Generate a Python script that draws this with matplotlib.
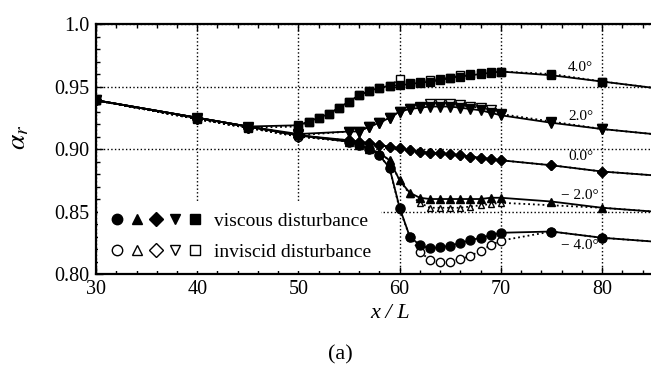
import numpy as np
import matplotlib.pyplot as plt
from matplotlib.lines import Line2D
from matplotlib.legend_handler import HandlerTuple
from matplotlib.ticker import MultipleLocator

plt.rcParams['font.family'] = ['Liberation Serif', 'DejaVu Serif']
plt.rcParams['mathtext.fontset'] = 'stix'

# x/L positions
x_4 = [30, 40, 45, 50, 51, 52, 53, 54, 55, 56, 57, 58, 59, 60, 61, 62, 63, 64,
       65, 66, 67, 68, 69, 70, 75, 80, 85]
x_lo = [30, 40, 45, 50, 55, 56, 57, 58, 59, 60, 61, 62, 63, 64, 65, 66, 67, 68,
        69, 70, 75, 80, 85]
x_m2_inv = [30, 40, 45, 50, 55, 56, 57, 58, 59, 60, 61, 62, 63, 64, 65, 66, 67,
            68, 69, 70, 80, 85]

# alpha_r, 4.0 deg
y_4_visc = [0.939, 0.925, 0.918, 0.919, 0.922, 0.925, 0.928, 0.933, 0.938,
            0.943, 0.9465, 0.949, 0.9505, 0.951, 0.952, 0.953, 0.954, 0.955,
            0.957, 0.958, 0.959, 0.960, 0.961, 0.962, 0.959, 0.954, 0.949]
y_4_inv = [0.939, 0.924, 0.917, 0.918, 0.922, 0.925, 0.928, 0.933, 0.938,
           0.943, 0.9465, 0.949, 0.9505, 0.956, 0.953, 0.954, 0.955, 0.956,
           0.957, 0.959, 0.960, 0.961, 0.962, 0.962, 0.960, 0.954, 0.949]
# 2.0 deg
y_2_visc = [0.939, 0.925, 0.918, 0.912, 0.914, 0.914, 0.918, 0.921, 0.925,
            0.930, 0.932, 0.933, 0.934, 0.934, 0.934, 0.933, 0.932, 0.931,
            0.929, 0.927, 0.921, 0.916, 0.912]
y_2_inv = [0.939, 0.924, 0.917, 0.911, 0.914, 0.914, 0.918, 0.921, 0.925,
           0.930, 0.932, 0.934, 0.936, 0.936, 0.936, 0.935, 0.934, 0.933,
           0.931, 0.928, 0.922, 0.916, 0.912]
# 0.0 deg
y_0_visc = [0.939, 0.925, 0.918, 0.911, 0.907, 0.906, 0.9045, 0.903, 0.902,
            0.9005, 0.899, 0.898, 0.897, 0.8965, 0.896, 0.895, 0.894, 0.893,
            0.892, 0.891, 0.887, 0.882, 0.879]
y_0_inv = [0.939, 0.924, 0.917, 0.910, 0.907, 0.906, 0.9045, 0.903, 0.902,
           0.9005, 0.899, 0.898, 0.897, 0.8965, 0.896, 0.895, 0.894, 0.893,
           0.892, 0.891, 0.887, 0.882, 0.879]
# -2.0 deg
y_m2_visc = [0.939, 0.925, 0.918, 0.911, 0.906, 0.903, 0.900, 0.897, 0.891,
             0.875, 0.865, 0.861, 0.860, 0.860, 0.860, 0.860, 0.860, 0.860,
             0.861, 0.861, 0.858, 0.853, 0.850]
y_m2_inv = [0.939, 0.924, 0.917, 0.910, 0.906, 0.903, 0.900, 0.897, 0.891,
            0.875, 0.864, 0.857, 0.853, 0.853, 0.853, 0.853, 0.854, 0.855,
            0.856, 0.857, 0.853, 0.850]
# -4.0 deg
y_m4_visc = [0.939, 0.925, 0.918, 0.911, 0.906, 0.903, 0.900, 0.895, 0.885,
             0.853, 0.830, 0.823, 0.8205, 0.8215, 0.8225, 0.825, 0.827, 0.829,
             0.831, 0.833, 0.834, 0.829, 0.826]
y_m4_inv = [0.939, 0.924, 0.917, 0.910, 0.906, 0.903, 0.900, 0.895, 0.885,
            0.852, 0.830, 0.818, 0.811, 0.8096, 0.8096, 0.812, 0.8144, 0.8187,
            0.823, 0.8267, 0.834, 0.829, 0.826]

angle_labels = ['4.0°', '2.0°', '0.0°', '− 2.0°', '− 4.0°']
label_x = [77.9, 77.9, 77.9, 77.8, 77.8]
label_y = [0.9655, 0.926, 0.894, 0.863, 0.823]

series = [
    ('s', 6.0, x_4, y_4_visc, x_4, y_4_inv),
    ('v', 7.0, x_lo, y_2_visc, x_lo, y_2_inv),
    ('D', 5.5, x_lo, y_0_visc, x_lo, y_0_inv),
    ('^', 5.5, x_lo, y_m2_visc, x_m2_inv, y_m2_inv),
    ('o', 6.5, x_lo, y_m4_visc, x_lo, y_m4_inv),
]

fig = plt.figure(figsize=(6.51, 3.72), dpi=100)
ax = fig.add_axes([0.1475, 0.2634, 0.855, 0.672])

for m, ms, xv, yv, xi, yi in series:
    ax.plot(xi, yi, ls=':', color='k', lw=1.3, marker=m, ms=ms - 0.5,
            mfc='white', mec='k', mew=1.0, markevery=slice(None, -1), zorder=2)
    ax.plot(xv, yv, ls='-', color='k', lw=1.3, marker=m, ms=ms, mfc='k',
            mec='k', markevery=slice(None, -1), zorder=3)

for t, lx, ly in zip(angle_labels, label_x, label_y):
    ax.text(lx, ly, t, fontsize=11, ha='center', va='center', zorder=4)

ax.set_xlim(30, 85)
ax.set_ylim(0.80, 1.0)
ax.set_xticks([30, 40, 50, 60, 70, 80])
ax.set_yticks([0.80, 0.85, 0.90, 0.95, 1.0])
ax.set_yticklabels(['0.80', '0.85', '0.90', '0.95', '1.0'])
ax.xaxis.set_minor_locator(MultipleLocator(2))
ax.yaxis.set_minor_locator(MultipleLocator(0.01))
ax.tick_params(which='both', direction='in', top=True, right=False,
               labelsize=14.5, width=1)
ax.tick_params(which='major', length=5)
ax.tick_params(which='minor', length=3)
ax.tick_params(axis='x', pad=4)
ax.tick_params(axis='y', pad=5)
ax.grid(True, which='major', ls=':', color='k', lw=1)
ax.set_axisbelow(True)
for side in ['left', 'bottom', 'top']:
    ax.spines[side].set_linewidth(1.6)
ax.spines['right'].set_visible(False)

# legend with five markers per row
marks = ['o', '^', 'D', 'v', 's']
filled = [Line2D([], [], ls='none', marker=m, ms=7.5, mfc='k', mec='k') for m in marks]
hollow = [Line2D([], [], ls='none', marker=m, ms=7.5, mfc='white', mec='k', mew=1)
          for m in marks]
leg = ax.legend([tuple(filled), tuple(hollow)],
                ['viscous disturbance', 'inviscid disturbance'],
                handler_map={tuple: HandlerTuple(ndivide=None, pad=0)},
                loc='lower left', bbox_to_anchor=(0.003, 0.012),
                fontsize=14, handlelength=5.0, handletextpad=0.5,
                labelspacing=0.7, borderpad=0.5, borderaxespad=0,
                frameon=True, fancybox=False, framealpha=1, edgecolor='none')
leg.set_zorder(1)

fig.text(19 / 651, 1 - 137 / 372, r'$\alpha_r$', fontsize=20, rotation=90,
         ha='center', va='center')
fig.text(390 / 651, 1 - 313 / 372, 'x / L', fontsize=16, style='italic',
         ha='center', va='center')
fig.text(340 / 651, 1 - 355 / 372, '(a)', fontsize=16, ha='center', va='center')

fig.savefig('out.png', dpi=100)
